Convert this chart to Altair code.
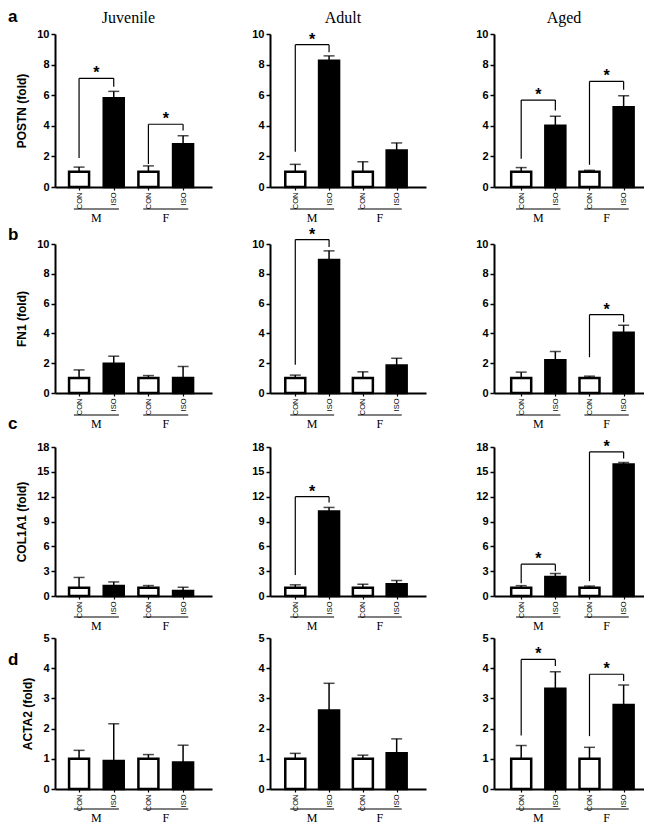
import altair as alt
import pandas as pd

# ---------------- data ----------------
genes = ["POSTN", "FN1", "COL1A1", "ACTA2"]
ages = ["Juvenile", "Adult", "Aged"]
panel_letters = ["a", "b", "c", "d"]
bar_pos = [1, 2, 3, 4]
bar_labels = ["CON", "ISO", "CON", "ISO"]
sex_groups = ["M", "F"]
sex_center = [1.5, 3.5]
sex_line_start = [0.85, 2.85]
sex_line_end = [2.15, 4.15]

y_max = [10, 10, 18, 5]
y_ticks = [[0, 2, 4, 6, 8, 10], [0, 2, 4, 6, 8, 10],
           [0, 3, 6, 9, 12, 15, 18], [0, 1, 2, 3, 4, 5]]

# bar order: CON M, ISO M, CON F, ISO F ; one list per age (Juvenile, Adult, Aged)
postn_mean = [[1.0, 5.8, 1.0, 2.8], [1.0, 8.25, 1.0, 2.38], [1.0, 4.0, 1.0, 5.22]]
postn_sem = [[0.3, 0.45, 0.38, 0.55], [0.48, 0.32, 0.65, 0.5], [0.27, 0.63, 0.09, 0.74]]
fn1_mean = [[1.0, 1.97, 1.0, 1.0], [1.0, 8.92, 1.0, 1.85], [1.0, 2.2, 1.0, 4.05]]
fn1_sem = [[0.55, 0.5, 0.17, 0.78], [0.2, 0.62, 0.42, 0.48], [0.4, 0.58, 0.13, 0.5]]
col1a1_mean = [[1.0, 1.2, 1.0, 0.6], [1.0, 10.2, 1.0, 1.42], [1.0, 2.3, 1.0, 15.9]]
col1a1_sem = [[1.24, 0.5, 0.26, 0.46], [0.35, 0.5, 0.42, 0.45], [0.25, 0.42, 0.2, 0.22]]
acta2_mean = [[1.0, 0.93, 1.0, 0.88], [1.0, 2.6, 1.0, 1.18], [1.0, 3.32, 1.0, 2.78]]
acta2_sem = [[0.28, 1.23, 0.14, 0.57], [0.18, 0.9, 0.12, 0.48], [0.44, 0.56, 0.38, 0.66]]

means = [postn_mean, fn1_mean, col1a1_mean, acta2_mean]
sems = [postn_sem, fn1_sem, col1a1_sem, acta2_sem]

# significance brackets
br_row = [0, 0, 0, 0, 0, 1, 1, 2, 2, 2, 3, 3]
br_col = [0, 0, 1, 2, 2, 1, 2, 1, 2, 2, 2, 2]
br_group = [0, 1, 0, 0, 1, 0, 1, 0, 0, 1, 0, 1]
br_level = [7.1, 4.1, 9.3, 5.68, 6.9, 10.3, 5.26, 12.0, 3.85, 17.4, 4.29, 3.8]
br_left = [1.9, 1.5, 2.3, 1.85, 1.45, 1.9, 2.4, 2.55, 1.55, 1.8, 1.77, 1.75]
br_right = [6.55, 3.7, 8.8, 5.0, 6.35, 9.8, 4.75, 11.3, 3.0, 16.6, 4.07, 3.58]

# ---------------- layout ----------------
plot_w = [157, 156, 150]
col_w = [157, 166, 150]
x_dom = [[0.45, 4.69], [0.4, 4.72], [0.35, 4.45]]
row_h = [153, 164, 161, 151]
row_top = [0, 15, 12, 0]
letter_dy = [-12, -4, -18, 27]
label_off = [22, 22, 21, 20]
SANS = "Liberation Sans"
SERIF = "Liberation Serif"


def panel(r, c):
    H, T, PW = row_h[r], row_top[r], plot_w[c]
    xs = alt.Scale(domain=x_dom[c], range=[0, PW], nice=False, zero=False)
    ys = alt.Scale(domain=[0, y_max[r]], range=[H, T], nice=False)
    xaxis = alt.Axis(values=bar_pos, title=None, grid=False,
                     labelExpr="['CON','ISO','CON','ISO'][datum.value-1]",
                     labelAngle=-90, labelFont=SANS, labelFontSize=7.5,
                     labelPadding=2, tickSize=3, tickWidth=1.2, domainWidth=2)
    yaxis = alt.Axis(values=y_ticks[r], grid=False,
                     title=(genes[r] + " (fold)") if c == 0 else "",
                     titleFont=SANS, titleFontSize=12, titleFontWeight="bold",
                     titlePadding=8,
                     labelFont=SANS, labelFontSize=11, labelFontWeight="bold",
                     labelPadding=2, tickSize=4, tickWidth=1.5, domainWidth=2)

    def X(f):
        return alt.X(f, scale=xs, axis=xaxis)

    def Y(f):
        return alt.Y(f, scale=ys, axis=yaxis, stack=None)

    m = means[r][c]
    s = sems[r][c]
    bars = pd.DataFrame({"pos": bar_pos, "treat": bar_labels, "mean": m,
                         "top": [a + b for a, b in zip(m, s)]})

    bar_layer = alt.Chart(bars).mark_bar(
        width=20, stroke="black", strokeWidth=2.5, orient="vertical"
    ).encode(
        x=X("pos:Q"), y=Y("mean:Q"),
        fill=alt.Fill("treat:N", scale=alt.Scale(domain=["CON", "ISO"], range=["white", "black"]), legend=None),
    )
    err_layer = alt.Chart(bars).mark_rule(color="black", strokeWidth=1.5).encode(
        x=X("pos:Q"), y=Y("mean:Q"), y2="top:Q")
    cap_layer = alt.Chart(bars).mark_tick(color="black", orient="horizontal", size=11, thickness=1.5).encode(
        x=X("pos:Q"), y=Y("top:Q"))

    grp = pd.DataFrame({"center": sex_center, "label": sex_groups,
                        "start": sex_line_start, "end": sex_line_end})
    uline = alt.Chart(grp).mark_rule(color="black", strokeWidth=1.2).encode(
        x=X("start:Q"), x2="end:Q", y=alt.value(H + label_off[r]))
    glab = alt.Chart(grp).mark_text(font=SERIF, fontSize=12, baseline="middle", color="black").encode(
        x=X("center:Q"), y=alt.value(H + label_off[r] + 9), text="label:N")

    layers = [bar_layer, err_layer, cap_layer, uline, glab]

    segs = []
    stars = []
    for i in range(len(br_row)):
        if br_row[i] == r and br_col[i] == c:
            xl = bar_pos[2 * br_group[i]]
            xr = bar_pos[2 * br_group[i] + 1]
            lv = br_level[i]
            segs.append({"x": xl, "x2": xl, "y": br_left[i], "y2": lv})
            segs.append({"x": xl, "x2": xr, "y": lv, "y2": lv})
            segs.append({"x": xr, "x2": xr, "y": br_right[i], "y2": lv})
            stars.append({"x": (xl + xr) / 2, "y": lv, "t": "*"})
    if segs:
        layers.append(alt.Chart(pd.DataFrame(segs)).mark_rule(color="black", strokeWidth=1.2).encode(
            x=X("x:Q"), x2="x2:Q", y=Y("y:Q"), y2="y2:Q"))
        layers.append(alt.Chart(pd.DataFrame(stars)).mark_text(
            font=SANS, fontSize=16, fontWeight="bold", baseline="alphabetic", dy=0, color="black").encode(
            x=X("x:Q"), y=Y("y:Q"), text="t:N"))

    if r == 0:
        layers.append(alt.Chart(pd.DataFrame({"t": [ages[c]]})).mark_text(
            font=SERIF, fontSize=16, align="center", baseline="alphabetic", color="black").encode(
            x=alt.value(PW / 2 - 5), y=alt.value(-11), text="t:N"))
    if c == 0:
        layers.append(alt.Chart(pd.DataFrame({"t": [panel_letters[r]]})).mark_text(
            font=SANS, fontSize=17, fontWeight="bold", align="left", baseline="alphabetic", color="black").encode(
            x=alt.value(-47), y=alt.value(T + letter_dy[r]), text="t:N"))

    return alt.layer(*layers).properties(width=col_w[c], height=H)


panels = [panel(r, c) for r in range(4) for c in range(3)]

chart = alt.concat(*panels, columns=3).properties(
    bounds="flush",
    spacing={"row": 42, "column": 58},
    padding={"left": 0, "top": 0, "right": 0, "bottom": 0},
).configure_view(strokeWidth=0).configure_axis(
    domainColor="black", tickColor="black", labelColor="black", titleColor="black"
)

chart.save("out.html", embed_options={"renderer": "svg", "actions": False})
